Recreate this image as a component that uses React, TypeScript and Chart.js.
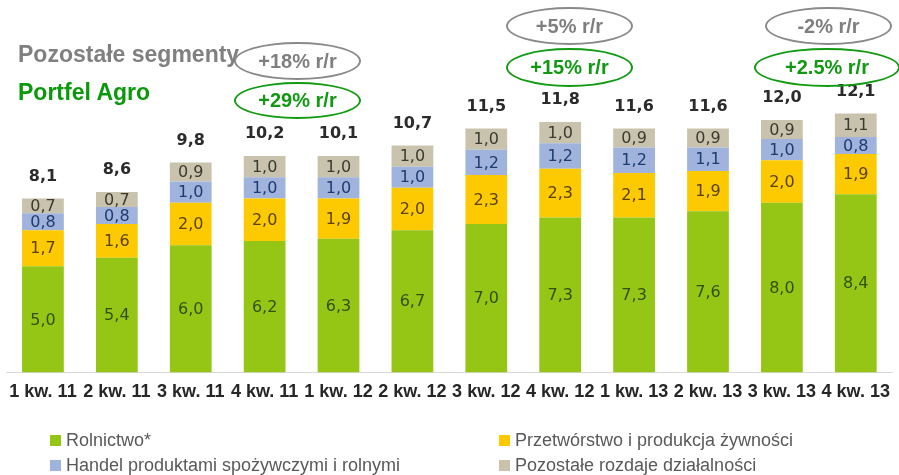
import React, { useEffect, useRef } from "react";
import { Chart, registerables } from "chart.js";

Chart.register(...registerables);

const categories = ["1 kw. 11", "2 kw. 11", "3 kw. 11", "4 kw. 11", "1 kw. 12", "2 kw. 12", "3 kw. 12", "4 kw. 12", "1 kw. 13", "2 kw. 13", "3 kw. 13", "4 kw. 13"];
const rolnictwo = [5.0, 5.4, 6.0, 6.2, 6.3, 6.7, 7.0, 7.3, 7.3, 7.6, 8.0, 8.4];
const przetworstwo = [1.7, 1.6, 2.0, 2.0, 1.9, 2.0, 2.3, 2.3, 2.1, 1.9, 2.0, 1.9];
const handel = [0.8, 0.8, 1.0, 1.0, 1.0, 1.0, 1.2, 1.2, 1.2, 1.1, 1.0, 0.8];
const pozostale = [0.7, 0.7, 0.9, 1.0, 1.0, 1.0, 1.0, 1.0, 0.9, 0.9, 0.9, 1.1];
const totals = [8.1, 8.6, 9.8, 10.2, 10.1, 10.7, 11.5, 11.8, 11.6, 11.6, 12.0, 12.1];

const seriesNames = ["Rolnictwo*", "Przetwórstwo i produkcja żywności", "Handel produktami spożywczymi i rolnymi", "Pozostałe rozdaje działalności"];
const seriesColors = ["#95c615", "#fdc900", "#9fb3dc", "#c9c3ae"];
const labelColors = ["#2f5210", "#5a4200", "#1f3b70", "#3b3a30"];

const yoyOther = ["+18% r/r", "+5% r/r", "-2% r/r"];
const yoyAgro = ["+29% r/r", "+15% r/r", "+2.5% r/r"];

const fmt = (v: number) => v.toFixed(1).replace(".", ",");

const valueLabels = {
  id: "valueLabels",
  afterDatasetsDraw(chart: any) {
    const ctx = chart.ctx;
    ctx.save();
    ctx.textAlign = "center";
    ctx.textBaseline = "middle";
    ctx.font = "16px 'DejaVu Sans'";
    chart.data.datasets.forEach((ds: any, i: number) => {
      const meta = chart.getDatasetMeta(i);
      meta.data.forEach((bar: any, j: number) => {
        const { x, y, base } = bar.getProps(["x", "y", "base"], true);
        ctx.fillStyle = labelColors[i];
        ctx.fillText(fmt(ds.data[j]), x, (y + base) / 2 + 1);
      });
    });
    const last = chart.getDatasetMeta(chart.data.datasets.length - 1);
    ctx.font = "bold 16px 'DejaVu Sans'";
    ctx.fillStyle = "#2b2b2b";
    last.data.forEach((bar: any, j: number) => {
      const { x, y } = bar.getProps(["x", "y"], true);
      ctx.fillText(fmt(totals[j]), x, y - 22);
    });
    ctx.restore();
  },
};

const ellipseBase: React.CSSProperties = {
  position: "absolute",
  boxSizing: "border-box",
  borderRadius: "50%",
  display: "flex",
  alignItems: "center",
  justifyContent: "center",
  fontFamily: "'Liberation Sans', Arial, sans-serif",
  fontWeight: "bold",
  fontSize: 20,
  whiteSpace: "nowrap",
};

export default function App() {
  const ref = useRef<HTMLCanvasElement>(null);

  useEffect(() => {
    document.body.style.margin = "0";
    const chart = new Chart(ref.current as HTMLCanvasElement, {
      type: "bar",
      data: {
        labels: categories,
        datasets: [rolnictwo, przetworstwo, handel, pozostale].map((d, i) => ({
          label: seriesNames[i],
          data: d,
          backgroundColor: seriesColors[i],
          borderWidth: 0,
          categoryPercentage: 1,
          barPercentage: 0.565,
        })),
      },
      options: {
        animation: false,
        responsive: false,
        layout: { padding: { left: 6, right: 1, top: 33, bottom: 63 } },
        plugins: { legend: { display: false }, tooltip: { enabled: false } },
        scales: {
          x: {
            stacked: true,
            grid: { display: false, drawTicks: false },
            border: { display: true, color: "#d9d9d9", width: 1 },
            ticks: {
              color: "#262626",
              padding: 9,
              maxRotation: 0,
              autoSkip: false,
              font: { family: "'Liberation Sans'", weight: "bold", size: 18 },
            },
          },
          y: { stacked: true, display: false, min: 0, max: 16 },
        },
      },
      plugins: [valueLabels],
    });
    return () => chart.destroy();
  }, []);

  const legendOrder = [0, 2, 1, 3];
  const legendPos = [
    { left: 50, top: 440 },
    { left: 50, top: 465 },
    { left: 499, top: 440 },
    { left: 499, top: 465 },
  ];

  const otherPos = [
    { left: 234, top: 42, width: 127, height: 38 },
    { left: 506, top: 7, width: 127, height: 38 },
    { left: 765, top: 7, width: 127, height: 38 },
  ];
  const agroPos = [
    { left: 234, top: 82, width: 127, height: 37 },
    { left: 506, top: 48, width: 127, height: 39 },
    { left: 754, top: 48, width: 146, height: 39 },
  ];

  return (
    <div style={{ position: "relative", width: 899, height: 475, overflow: "hidden", background: "#fff" }}>
      <canvas ref={ref} width={899} height={475} style={{ position: "absolute", left: 0, top: 0, display: "block" }} />
      <div style={{ position: "absolute", left: 18, top: 41, lineHeight: "26px", fontSize: 23, fontWeight: "bold", color: "#808080", fontFamily: "'Liberation Sans', Arial, sans-serif", whiteSpace: "nowrap" }}>
        Pozostałe segmenty
      </div>
      <div style={{ position: "absolute", left: 18, top: 79, lineHeight: "26px", fontSize: 23, fontWeight: "bold", color: "#0a990a", fontFamily: "'Liberation Sans', Arial, sans-serif", whiteSpace: "nowrap" }}>
        Portfel Agro
      </div>
      {yoyOther.map((t, i) => (
        <div key={"o" + i} style={{ ...ellipseBase, ...otherPos[i], border: "2px solid #8a8a8a", color: "#7f7f7f" }}>
          {t}
        </div>
      ))}
      {yoyAgro.map((t, i) => (
        <div key={"a" + i} style={{ ...ellipseBase, ...agroPos[i], border: "2.5px solid #139a13", color: "#119911" }}>
          {t}
        </div>
      ))}
      {legendOrder.map((s, k) => (
        <div key={"l" + s} style={{ position: "absolute", left: legendPos[k].left, top: legendPos[k].top - 11, height: 22, display: "flex", alignItems: "center", whiteSpace: "nowrap", fontFamily: "'Liberation Sans', Arial, sans-serif", fontSize: 18, color: "#595959" }}>
          <span style={{ display: "inline-block", width: 11, height: 11, background: seriesColors[s], marginRight: 5 }} />
          {seriesNames[s]}
        </div>
      ))}
    </div>
  );
}
